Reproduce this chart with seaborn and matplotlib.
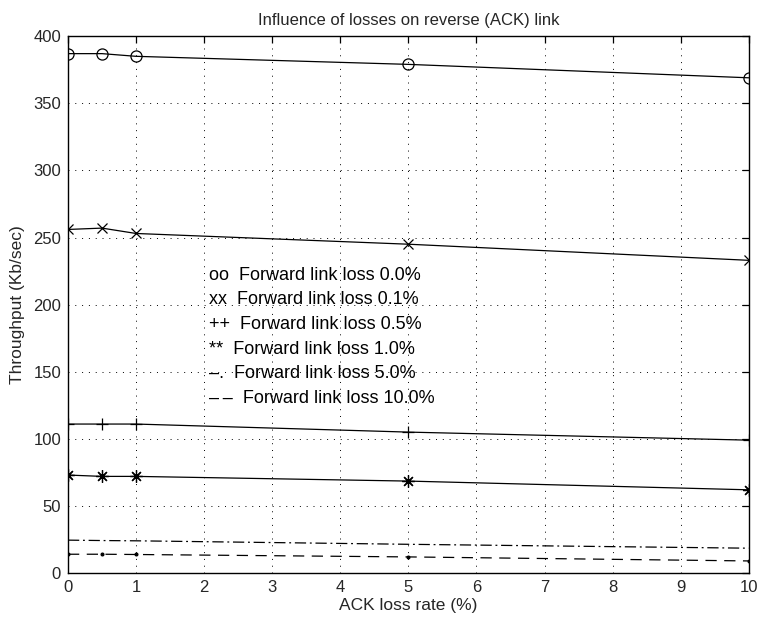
import matplotlib
matplotlib.use("Agg")
import matplotlib.pyplot as plt
import seaborn as sns
import pandas as pd

# ---- data ----
ack_loss = [0, 0.5, 1, 5, 10]
loss_00 = [387, 387, 385, 379, 369]
loss_01 = [256, 257, 253, 245, 233]
loss_05 = [111, 111, 111, 105, 99]
loss_10 = [73, 72, 72, 68.5, 62]
loss_50 = [24.5, 24.2, 24, 21.4, 18.5]
loss_100 = [14, 14, 13.8, 12, 9]
legend_lines = [
    "oo  Forward link loss 0.0%",
    "xx  Forward link loss 0.1%",
    "++  Forward link loss 0.5%",
    "**  Forward link loss 1.0%",
    "\u2013.  Forward link loss 5.0%",
    "\u2013\u2009\u2013  Forward link loss 10.0%",
]
x_ticks = list(range(0, 11))
y_ticks = list(range(0, 401, 50))

sns.set_style("white")
plt.rcParams['font.family'] = ['Liberation Sans', 'DejaVu Sans']

fig = plt.figure(figsize=(7.64, 6.24), dpi=100)
ax = fig.add_axes([0.089, 0.0817, 0.891, 0.8603])

series = [
    (loss_00, dict(marker='o', dashes=None, markersize=8, fill='none')),
    (loss_01, dict(marker='x', dashes=None, markersize=7, fill='none')),
    (loss_05, dict(marker='+', dashes=None, markersize=8, fill='none')),
    (loss_10, dict(marker=(8, 2, 0), dashes=None, markersize=9, fill='none')),
    (loss_50, dict(marker=None, dashes=(9, 3, 1.5, 3))),
    (loss_100, dict(marker='.', dashes=(9, 6), markersize=4, fill='black')),
]
for vals, st in series:
    df = pd.DataFrame({"x": ack_loss, "y": vals})
    kw = dict(color='black', linewidth=0.9)
    if st.get('marker') is not None:
        kw.update(marker=st['marker'], markersize=st['markersize'],
                  markerfacecolor=st['fill'], markeredgecolor='black',
                  markeredgewidth=0.9)
    sns.lineplot(data=df, x="x", y="y", ax=ax, legend=False, **kw)
    if st['dashes'] is not None:
        ax.lines[-1].set_dashes(st['dashes'])

ax.set_xlim(0, 10)
ax.set_ylim(0, 400)
ax.set_xticks(x_ticks)
ax.set_yticks(y_ticks)
ax.tick_params(direction='in', length=5, width=0.9, labelsize=12,
               top=True, right=True, color='black', pad=5)
ax.grid(True, linestyle=(0, (1, 6)), color='black', linewidth=0.7)
for s in ax.spines.values():
    s.set_visible(True)
    s.set_color('black')
    s.set_linewidth(1.0)

ax.set_xlabel("ACK loss rate (%)", fontsize=12.5, labelpad=2)
ax.set_ylabel("Throughput (Kb/sec)", fontsize=12.5, labelpad=6)
ax.set_title("Influence of losses on reverse (ACK) link", fontsize=12, pad=8)

for i, t in enumerate(legend_lines):
    ax.text(2.07, 222 - i * 18.4, t, fontsize=13, va='center', ha='left',
            color='black')

fig.savefig("out.png", dpi=100)
